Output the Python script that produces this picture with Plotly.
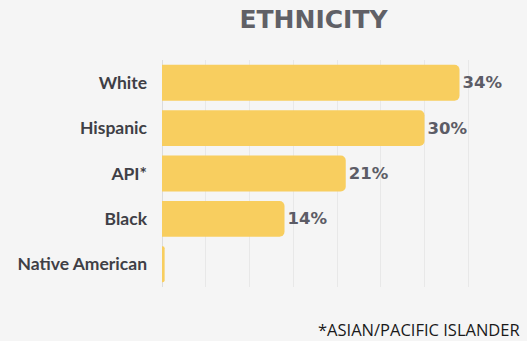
import plotly.graph_objects as go

categories = ["White", "Hispanic", "API*", "Black", "Native American"]
values = [34, 30, 21, 14, 0.3]
value_labels = ["34%", "30%", "21%", "14%", ""]

W, H = 527, 341
ml, mr, mt, mb = 162, 22, 60, 54

fig = go.Figure(go.Bar(
    y=categories, x=values, orientation="h",
    marker=dict(color="#F8CE5F", line=dict(width=0), cornerradius=5),
    text=value_labels, textposition="outside", cliponaxis=False,
    textfont=dict(family="DejaVu Sans", size=16.5, color="#5C5C66", weight="bold"),
    width=0.79,
))

fig.update_layout(
    width=W, height=H,
    margin=dict(l=ml, r=mr, t=mt, b=mb),
    paper_bgcolor="#F5F5F5", plot_bgcolor="#F5F5F5",
    showlegend=False,
    title=dict(text="ETHNICITY", x=313.5 / W, xanchor="center",
               y=1 - 19.5 / H, yanchor="middle", xref="container", yref="container",
               font=dict(family="DejaVu Sans", size=25, color="#606066", weight="bold")),
    xaxis=dict(range=[0, 39.2], dtick=5, showticklabels=False,
               showgrid=True, gridcolor="#E8E8E8", gridwidth=1,
               zeroline=True, zerolinecolor="#DCDCDC", zerolinewidth=1,
               fixedrange=True),
    yaxis=dict(autorange="reversed", showgrid=False,
               tickfont=dict(family="Lato", size=17.5, color="#3F3F46", weight="bold"),
               ticklabelstandoff=14, fixedrange=True),
    annotations=[dict(text="*ASIAN/PACIFIC ISLANDER", xref="paper", yref="paper",
                      x=(522 - ml) / (W - ml - mr), y=(287 - 329) / (H - mt - mb),
                      xanchor="right", yanchor="middle", showarrow=False,
                      font=dict(family="Open Sans", size=16.5, color="#1A1A1A"))],
)

fig.write_html("out.html")
